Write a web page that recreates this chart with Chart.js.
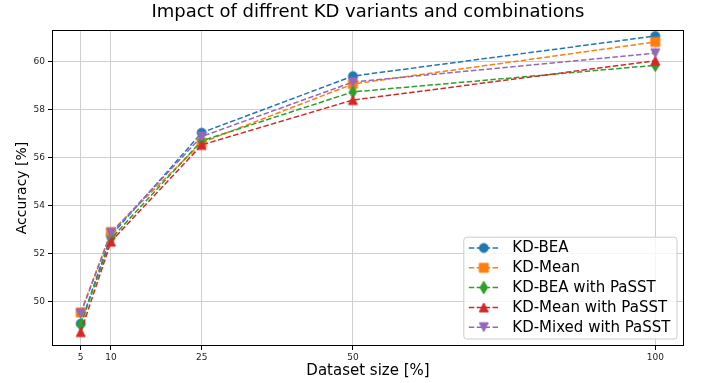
<!DOCTYPE html>
<html>
<head>
<meta charset="utf-8">
<script src="https://cdn.jsdelivr.net/npm/chart.js@4.4.1/dist/chart.umd.min.js"></script>
<style>
  html, body { margin: 0; padding: 0; background: #fff; }
  canvas { display: block; }
</style>
</head>
<body>
<canvas id="chart" width="702" height="383"></canvas>
<script>
// values
const datasetSizes = [5, 10, 25, 50, 100];
const kdBea = [49.08, 52.75, 57.04, 59.40, 61.07];
const kdMean = [49.55, 52.90, 56.63, 59.07, 60.82];
const kdBeaPasst = [49.04, 52.62, 56.70, 58.74, 59.85];
const kdMeanPasst = [48.73, 52.50, 56.53, 58.40, 60.04];
const kdMixedPasst = [49.50, 52.86, 56.88, 59.15, 60.35];
const xTicks = [5, 10, 25, 50, 100];
const yTicks = [50, 52, 54, 56, 58, 60];

const FONT = "'DejaVu Sans', sans-serif";
Chart.defaults.font.family = FONT;

// matplotlib-like markers drawn on small canvases
function makeMarker(kind, color, ms) {
  const c = document.createElement("canvas");
  const s = Math.ceil(ms * 1.6) + 4;
  c.width = s;
  c.height = s;
  const ctx = c.getContext("2d");
  ctx.translate(s / 2, s / 2);
  ctx.fillStyle = color;
  ctx.strokeStyle = color;
  ctx.lineWidth = 1;
  ctx.beginPath();
  const h = ms / 2;
  if (kind === "o") {
    ctx.arc(0, 0, h, 0, Math.PI * 2);
  } else if (kind === "s") {
    ctx.rect(-h, -h, ms, ms);
  } else if (kind === "d") {
    const dh = ms * Math.SQRT2 / 2;
    const dw = dh * 0.6;
    ctx.moveTo(0, -dh); ctx.lineTo(dw, 0); ctx.lineTo(0, dh); ctx.lineTo(-dw, 0);
  } else if (kind === "^") {
    ctx.moveTo(0, -h); ctx.lineTo(h, h); ctx.lineTo(-h, h);
  } else if (kind === "v") {
    ctx.moveTo(0, h); ctx.lineTo(h, -h); ctx.lineTo(-h, -h);
  }
  ctx.closePath();
  ctx.fill();
  ctx.stroke();
  return c;
}

// later series sit on top, as in the original plot
function series(label, values, color, marker, order) {
  return {
    label,
    order,
    data: datasetSizes.map((x, i) => ({ x, y: values[i] })),
    borderColor: color,
    backgroundColor: color,
    borderWidth: 1.5,
    borderDash: [5.5, 2.4],
    tension: 0,
    fill: false,
    pointStyle: makeMarker(marker, color, 9),
    pointRadius: 5,
    pointHoverRadius: 5,
  };
}

const frame = {
  id: "frame",
  afterDatasetsDraw(chart) {
    const { ctx, chartArea: a } = chart;
    ctx.save();
    ctx.strokeStyle = "#000";
    ctx.lineWidth = 1;
    ctx.strokeRect(Math.round(a.left) + 0.5, Math.round(a.top) + 0.5,
      Math.round(a.right - a.left) - 1, Math.round(a.bottom - a.top) - 1);
    ctx.restore();
  },
};

const innerLegend = {
  id: "innerLegend",
  afterDraw(chart) {
    const { ctx, chartArea: a } = chart;
    const sets = chart.data.datasets;
    ctx.save();
    ctx.font = "15px " + FONT;
    const textW = Math.max(...sets.map((d) => ctx.measureText(d.label).width));
    const pitch = 19.8;
    const w = 6 + 30 + 13 + textW + 6;
    const h = 2 * 11.3 + (sets.length - 1) * pitch;
    const x0 = a.right - 7.5 - w;
    const y0 = a.bottom - 7.5 - h;
    ctx.beginPath();
    ctx.roundRect(x0 + 0.5, y0 + 0.5, w, h, 3);
    ctx.fillStyle = "rgba(255,255,255,0.8)";
    ctx.fill();
    ctx.strokeStyle = "#cccccc";
    ctx.lineWidth = 1;
    ctx.stroke();
    sets.forEach((d, i) => {
      const cy = y0 + 11.3 + i * pitch;
      ctx.beginPath();
      ctx.setLineDash(d.borderDash);
      ctx.strokeStyle = d.borderColor;
      ctx.lineWidth = d.borderWidth;
      ctx.moveTo(x0 + 5.5, cy);
      ctx.lineTo(x0 + 35.5, cy);
      ctx.stroke();
      ctx.setLineDash([]);
      const m = d.pointStyle;
      ctx.drawImage(m, x0 + 20.5 - m.width / 2, cy - m.height / 2);
      ctx.fillStyle = "#000";
      ctx.textAlign = "left";
      ctx.textBaseline = "middle";
      ctx.fillText(d.label, x0 + 49, cy + 0.5);
    });
    ctx.restore();
  },
};

new Chart(document.getElementById("chart").getContext("2d"), {
  type: "line",
  data: {
    datasets: [
      series("KD-BEA", kdBea, "#1f77b4", "o", 5),
      series("KD-Mean", kdMean, "#ff7f0e", "s", 4),
      series("KD-BEA with PaSST", kdBeaPasst, "#2ca02c", "d", 3),
      series("KD-Mean with PaSST", kdMeanPasst, "#d62728", "^", 2),
      series("KD-Mixed with PaSST", kdMixedPasst, "#9467bd", "v", 1),
    ],
  },
  options: {
    responsive: false,
    animation: false,
    devicePixelRatio: 1,
    layout: { padding: { left: 0, right: 18, top: 0, bottom: 0 } },
    scales: {
      x: {
        type: "linear",
        min: 0.25,
        max: 104.75,
        afterBuildTicks: (s) => { s.ticks = xTicks.map((v) => ({ value: v })); },
        afterFit: (s) => { s.height = 37; },
        ticks: { color: "#222", font: { size: 9 }, padding: 2, maxRotation: 0, autoSkip: false },
        grid: { color: "#cfcfcf", lineWidth: 1, tickColor: "#000", tickLength: 4 },
        border: { display: false },
        title: { display: true, text: "Dataset size [%]", color: "#000", font: { size: 15 }, padding: { top: 0, bottom: 3 } },
      },
      y: {
        min: 48.15,
        max: 61.32,
        afterBuildTicks: (s) => { s.ticks = yTicks.map((v) => ({ value: v })); },
        afterFit: (s) => { s.width = 52; },
        ticks: { color: "#222", font: { size: 9 }, padding: 3 },
        grid: { color: "#cfcfcf", lineWidth: 1, tickColor: "#000", tickLength: 4 },
        border: { display: false },
        title: { display: true, text: "Accuracy [%]", color: "#000", font: { size: 14 }, padding: { top: 14, bottom: 0 } },
      },
    },
    plugins: {
      legend: { display: false },
      tooltip: { enabled: false },
      title: {
        display: true,
        fullSize: false,
        text: "Impact of diffrent KD variants and combinations",
        color: "#000",
        font: { size: 18, weight: "normal" },
        padding: { top: 2, bottom: 6.4 },
      },
    },
  },
  plugins: [frame, innerLegend],
});
</script>
</body>
</html>
